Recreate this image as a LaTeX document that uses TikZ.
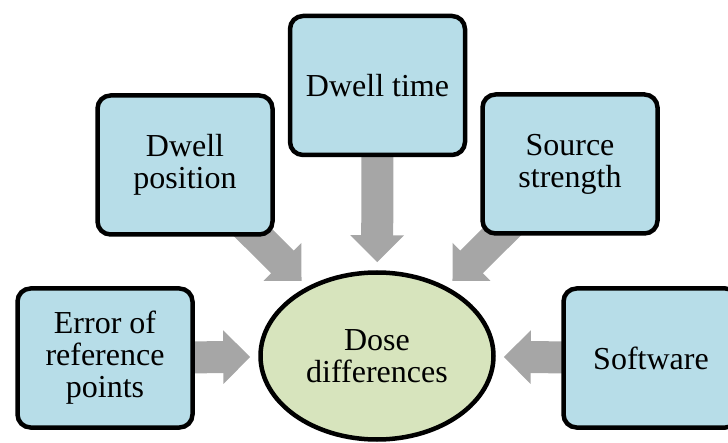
\documentclass[tikz,border=0pt]{standalone}
\usepackage{fontspec}
\IfFontExistsTF{LiberationSerif-Regular.ttf}{\setmainfont{LiberationSerif-Regular.ttf}}{}
\usetikzlibrary{arrows.meta,shapes.geometric}
\pgfdeclarelayer{background}
\pgfsetlayers{background,main}
\definecolor{boxblue}{HTML}{B7DDE8}
\definecolor{doseolive}{HTML}{D7E4BD}
\definecolor{arrowgray}{HTML}{A6A6A6}

\begin{document}
\begin{tikzpicture}[x=1pt,y=-1pt,
cause/.style={draw=black, line width=4.5pt, fill=boxblue, rounded corners=13pt, minimum width=175pt, minimum height=139pt, align=center, font=\rmfamily\fontsize{32}{32}\selectfont},
effect/.style={ellipse, draw=black, line width=4.5pt, fill=doseolive, minimum width=233pt, minimum height=167pt, align=center, font=\rmfamily\fontsize{32}{32}\selectfont},
blockarrow/.style={draw=arrowgray, line width=32pt, -{Triangle[length=27pt,width=52pt]}, shorten >=8pt}]
\useasboundingbox (0,0) rectangle (728,443);
\node[effect] (dose) at (377,356) {Dose\\differences};
\node[cause] (dtime) at (377.5,85.5) {Dwell time};
\node[cause] (dpos) at (185,165) {Dwell\\position};
\node[cause] (src) at (570,164) {Source\\strength};
\node[cause] (err) at (105,358) {Error of\\reference\\points};
\node[cause] (soft) at (651,358) {Software};
%arrows behind the boxes
\begin{pgfonlayer}{background}
\draw[blockarrow] (dtime.center) -- (dose);
\draw[blockarrow] (dpos.center) -- (dose);
\draw[blockarrow] (src.center) -- (dose);
\draw[blockarrow] (err.center) -- (dose);
\draw[blockarrow] (soft.center) -- (dose);
\end{pgfonlayer}
\end{tikzpicture}
\end{document}
